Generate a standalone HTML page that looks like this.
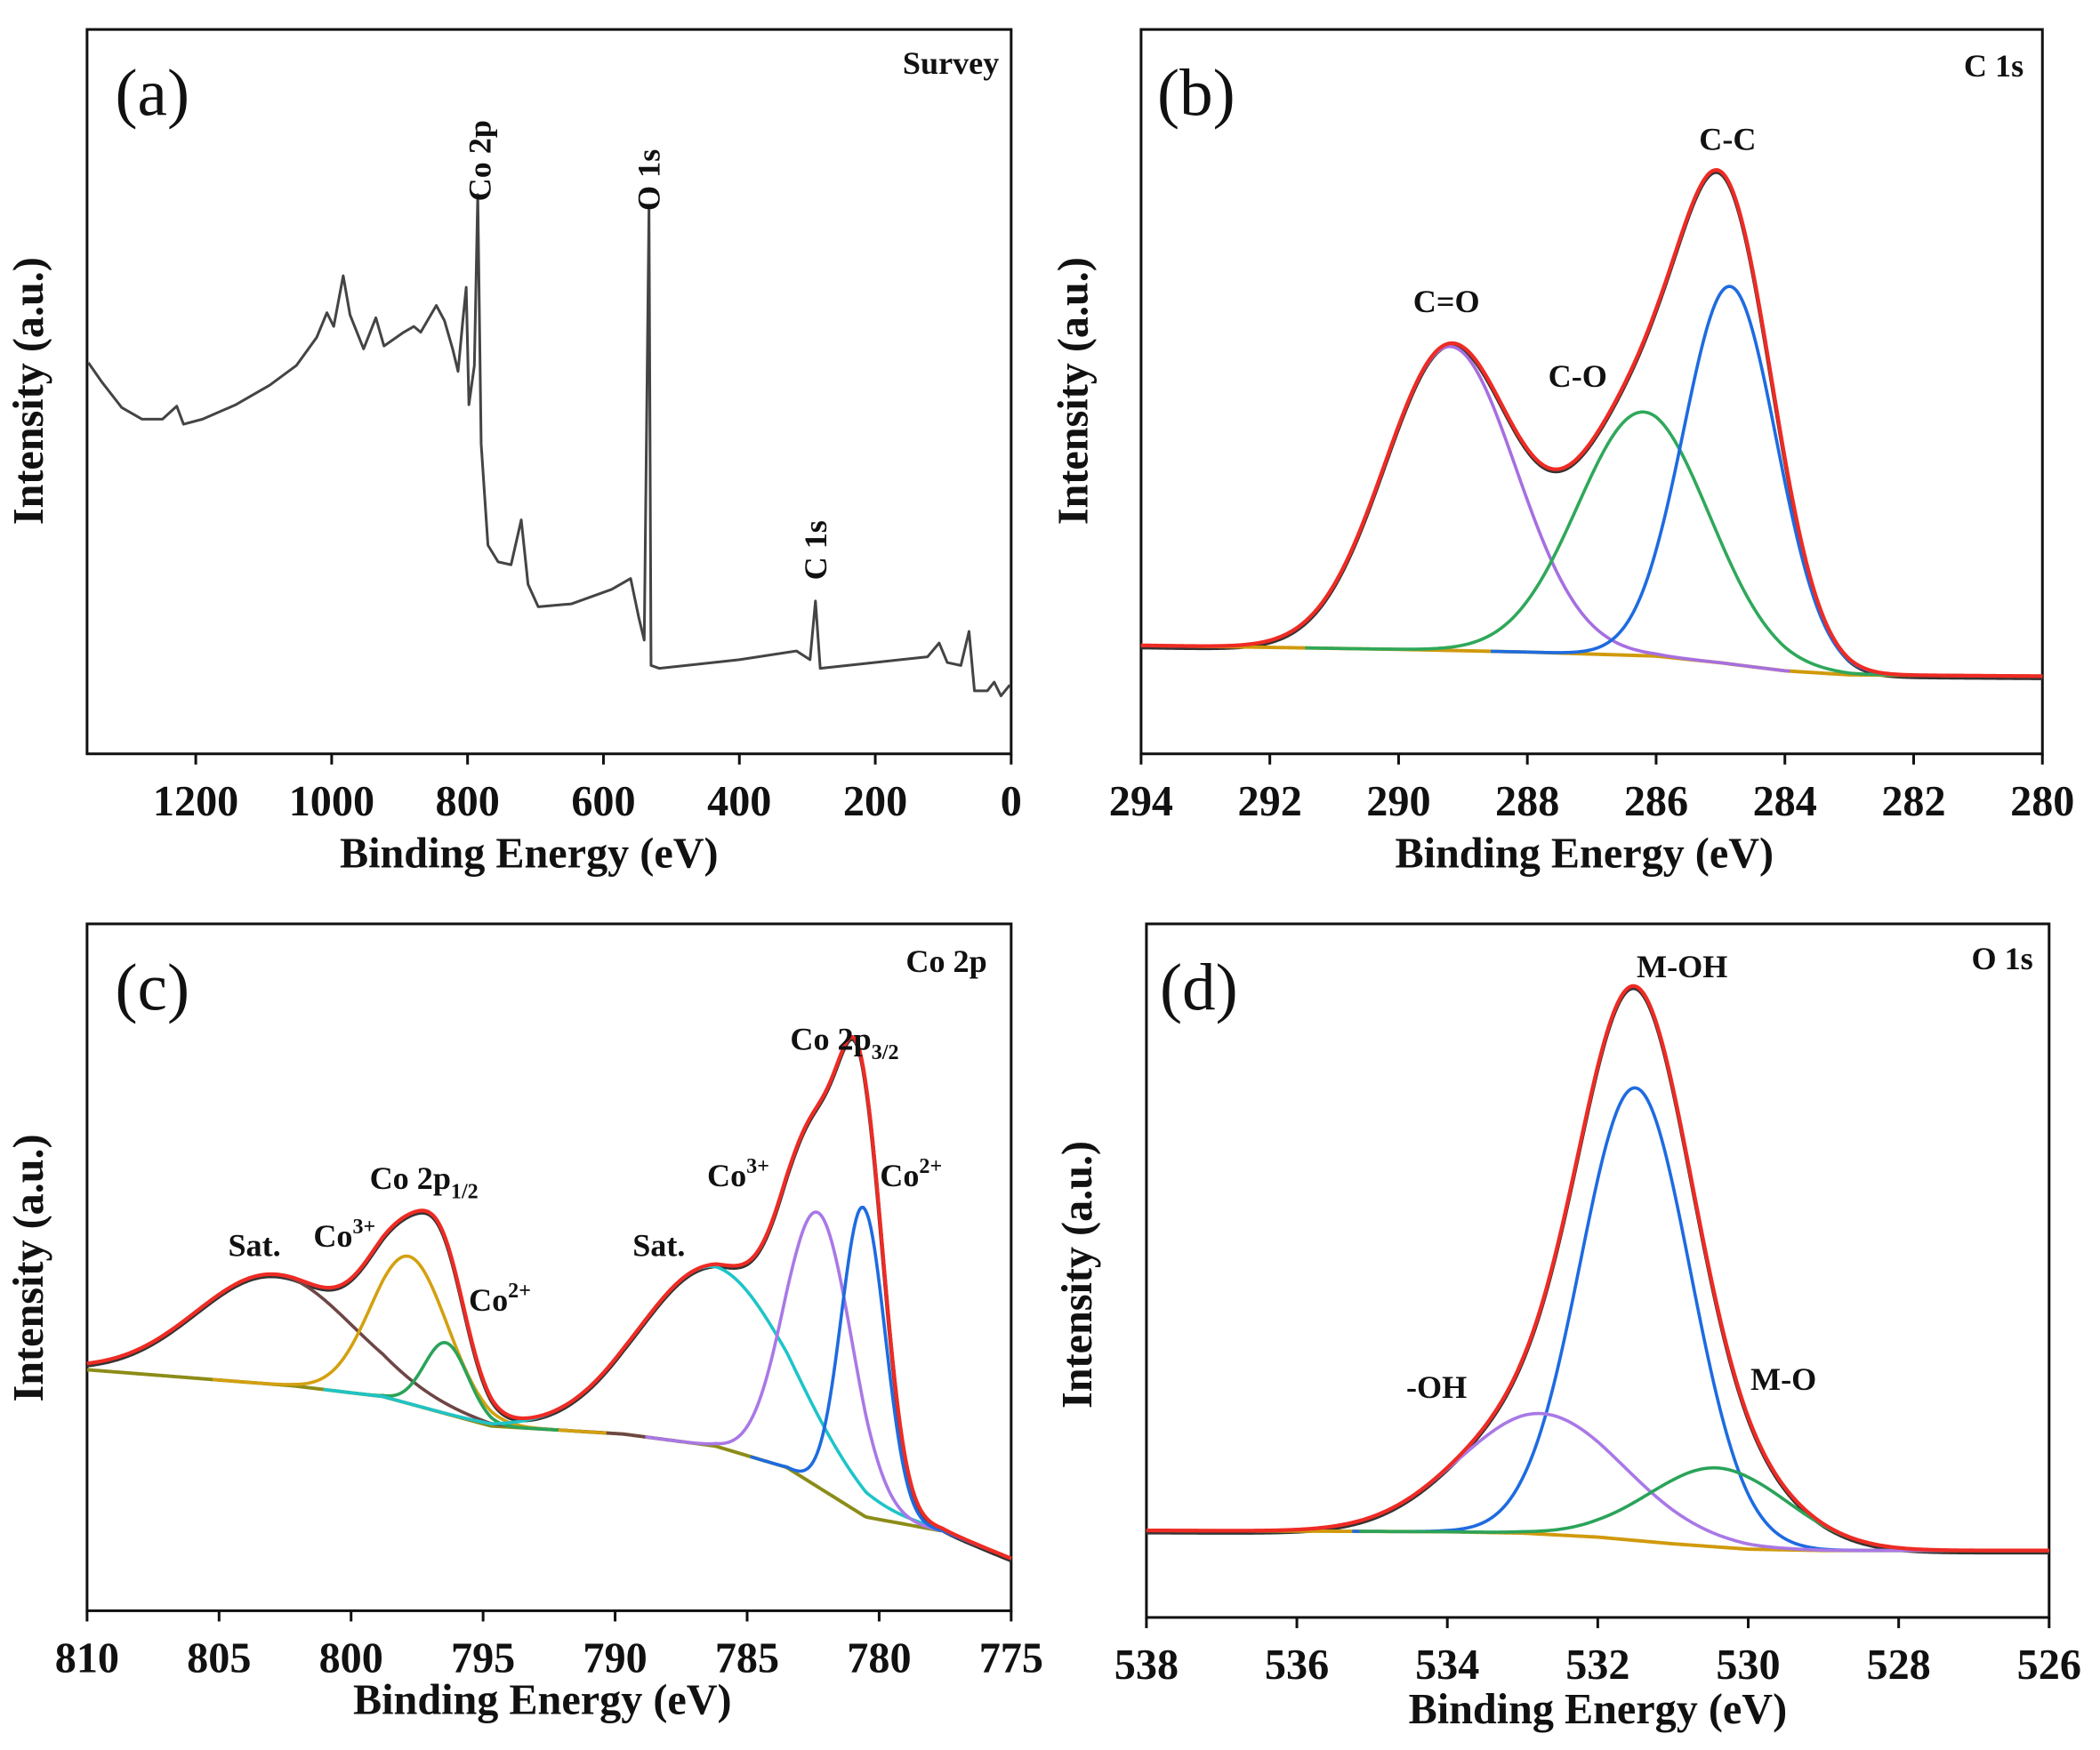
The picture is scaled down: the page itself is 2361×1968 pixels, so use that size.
<!DOCTYPE html>
<html><head><meta charset="utf-8"><style>
html,body{margin:0;padding:0;background:#fff;}
svg{display:block;}
text{font-family:"Liberation Serif","DejaVu Serif",serif;fill:#111;}
</style></head>
<body>
<svg id="fig" xmlns="http://www.w3.org/2000/svg" width="2361" height="1968" viewBox="0 0 1568 1307" preserveAspectRatio="none"></svg>
<script>
// ---------- Panel (a) survey data ----------
const surveyEV = [1358,1338,1309,1279,1249,1235,1228,1218,1190,1141,1091,1052,1022,1007,997,983,973,953,935,923,894,879,869,846,834,822,814,807,802,798,790,785,780,770,755,736,721,711,696,647,588,560,548,540,533,530,518,400,316,296,288,281,202,123,106,94,74,62,54,35,25,15,2];
const surveyI = [54.0,51.3,47.8,46.2,46.2,47.4,48.0,45.5,46.2,48.2,50.9,53.6,57.5,60.9,59.0,66.0,60.6,55.9,60.2,56.3,58.2,59.0,58.2,61.9,59.8,55.9,52.8,59.8,64.4,48.2,53.6,77.2,42.8,28.8,26.5,26.1,32.3,23.4,20.3,20.7,22.7,24.2,18.8,15.7,75.3,12.2,11.8,13.0,14.2,13.0,21.1,11.8,12.6,13.4,15.3,12.6,12.2,16.9,8.7,8.7,9.9,8.0,9.5];
const ticksA = [1200,1000,800,600,400,200,0];

// ---------- Panel (b) C 1s ----------
const baseB_EV = [294,290,288,286,285,284,283,280];
const baseB_I = [81,78,76,73,68,62,59,58];
const peakB_center = [289.2,286.2,284.85];
const peakB_height = [227,182,282];
const peakB_fwhm = [2.4,2.4,1.7];
const ticksB = [294,292,290,288,286,284,282,280];

// ---------- Panel (c) Co 2p ----------
const baseC_EV = [810,802.2,798.8,794.7,789.7,786.2,783.5,780.5,777.6,775];
const baseC_I = [180,168,160,138,132,123,107,70,59.5,39];
const peakC_center = [802.9,797.8,796.4,786.2,782.3,780.6];
const peakC_height = [82,110,53,134,205,230];
const peakC_fwhm = [7.0,3.4,1.95,6.75,3.0,1.95];
const ticksC = [810,805,800,795,790,785,780,775];

// ---------- Panel (d) O 1s ----------
const baseD_EV = [538,534,533,532,531,530,529,526];
const baseD_I = [65,64,63,60,55,51,50,50];
const peakD_center = [531.5,532.75,530.4];
const peakD_height = [338,90,59];
const peakD_fwhm = [1.72,2.58,2.17];
const ticksD = [538,536,534,532,530,528,526];

const NS = 'http://www.w3.org/2000/svg';
const svg = document.getElementById('fig');
function el(tag, attrs, parent, txt){
  const e = document.createElementNS(NS, tag);
  for (const k in attrs) e.setAttribute(k, attrs[k]);
  if (txt !== undefined) e.textContent = txt;
  (parent || svg).appendChild(e);
  return e;
}
function interp(xs, ys, x){
  for (let i=0;i<xs.length-1;i++){
    const a=xs[i], b=xs[i+1];
    if ((x<=a && x>=b) || (x>=a && x<=b)){ const t=(x-a)/(b-a); return ys[i]+t*(ys[i+1]-ys[i]); }
  }
  return x > Math.max(xs[0],xs[xs.length-1]) === (xs[0]>xs[xs.length-1]) ? ys[0] : ys[ys.length-1];
}
function gauss(x,c,h,w){ const s=w/2.3548; return h*Math.exp(-0.5*((x-c)/s)**2); }

function frame(g, L,T,R,B, x0,x1, ticks){
  const f = el('rect',{x:L,y:T,width:R-L,height:B-T,fill:'none',stroke:'#111','stroke-width':2},g);
  
  
  const sx = v => L + (x0-v)/(x0-x1)*(R-L);
  ticks.forEach(t=>{
    const x = sx(t);
    const tk = el('line',{x1:x,y1:B,x2:x,y2:B+8,stroke:'#111','stroke-width':2},g);
    
    
    const tl = el('text',{x:x,y:B+46,'text-anchor':'middle','font-size':32,'font-weight':'bold'},g,String(t));
    
    
  });
  return sx;
}
function titles(g, cx, ty, yx, yy){
  const xt = el('text',{x:cx,y:ty,'text-anchor':'middle','font-size':32,'font-weight':'bold'},g,'Binding Energy (eV)');
  
  
  const yt = el('text',{x:0,y:0,'text-anchor':'middle','font-size':32,'font-weight':'bold',transform:`translate(${yx},${yy}) rotate(-90)`},g,'Intensity (a.u.)');
  
  
}
function txt(g, x, y, s, size, weight, anchor, name){
  const t = el('text',{x:x,y:y,'font-size':size,'font-weight':weight||'bold','text-anchor':anchor||'start'},g);
  t.innerHTML = s;
  
  
  return t;
}
function path(g, pts, color, w, name){
  const p = el('path',{d:'M'+pts.map(p=>p[0].toFixed(2)+','+p[1].toFixed(2)).join('L'),fill:'none',stroke:color,'stroke-width':w,'stroke-linejoin':'round'},g);
  
  
  return p;
}
function fitPanel(g, sx, B, x0, x1, bEV, bI, cen, hei, fw, colors, names, baseColor, baseMin){
  const sy = v => B - v;
  const N = 500, xs=[];
  for (let i=0;i<=N;i++) xs.push(x0 + (x1-x0)*i/N);
  const base = x => interp(bEV,bI,x);
  const total = x => base(x) + cen.reduce((s,c,k)=>s+gauss(x,c,hei[k],fw[k]),0);
  path(g, xs.map(x=>[sx(x), sy(total(x))+1.5]), '#333', 3, 'raw-data-line');
  const bx = xs.filter(x=>baseMin===undefined || x>=baseMin);
  path(g, bx.map(x=>[sx(x), sy(base(x))]), baseColor, 2.6, 'background-line');
  cen.forEach((c,k)=>{
    const ks = xs.filter(x=>Math.abs(x-c) < fw[k]*2.2);
    path(g, ks.map(x=>[sx(x), sy(base(x)+gauss(x,c,hei[k],fw[k]))]), colors[k], 2.4, names[k]);
  });
  path(g, xs.map(x=>[sx(x), sy(total(x))]), '#ee2b24', 2.8, 'fit-envelope-line');
}

// ===== Panel a =====
const ga = el('g',{});


{
  const L=65,T=22,R=755,B=563;
  const sx = frame(ga,L,T,R,B,1360,0,ticksA);
  const sy = v => B - v/100*(B-T);
  path(ga, surveyEV.map((e,i)=>[sx(e), sy(surveyI[i])]), '#444', 2, 'survey-spectrum-line');
  titles(ga, 395, 648, 32, 292);
  txt(ga, 86, 86, '(a)', 50, 'normal', 'start', 'panel-label-a');
  txt(ga, 746, 55, 'Survey', 24, 'bold', 'end', 'panel-title-survey');
  const rl = [['Co 2p',782,74.8],['O 1s',533,73.5],['C 1s',288,22.5]];
  rl.forEach(r=>{
    const t = el('text',{x:0,y:0,'font-size':24,'font-weight':'bold',transform:`translate(${sx(r[1])+8},${sy(r[2])-8}) rotate(-90)`},ga,r[0]);
    
    
  });
}

// ===== Panel b =====
const gb = el('g',{});


{
  const L=852,T=22,R=1525,B=563;
  const sx = frame(gb,L,T,R,B,294,280,ticksB);
  fitPanel(gb, sx, B, 294, 280, baseB_EV, baseB_I, peakB_center, peakB_height, peakB_fwhm,
    ['#a66fe0','#2fa85a','#1e6be0'], ['c-o-double-peak','c-o-single-peak','c-c-peak'], '#d09a0c');
  titles(gb, 1183, 648, 812, 292);
  txt(gb, 864, 86, '(b)', 50, 'normal', 'start', 'panel-label-b');
  txt(gb, 1511, 57, 'C 1s', 24, 'bold', 'end', 'panel-title-c1s');
  txt(gb, 1080, 233, 'C=O', 24, 'bold', 'middle', 'peak-label');
  txt(gb, 1178, 289, 'C-O', 24, 'bold', 'middle', 'peak-label');
  txt(gb, 1290, 112, 'C-C', 24, 'bold', 'middle', 'peak-label');
}

// ===== Panel c =====
const gc = el('g',{});


{
  const L=65,T=690,R=755,B=1203;
  const sx = frame(gc,L,T,R,B,810,775,ticksC);
  fitPanel(gc, sx, B, 810, 775, baseC_EV, baseC_I, peakC_center, peakC_height, peakC_fwhm,
    ['#6e4646','#d4a010','#2aa35a','#1ec4c8','#a978e6','#1e6be0'],
    ['satellite-peak-1','co3-2p12-peak','co2-2p12-peak','satellite-peak-2','co3-2p32-peak','co2-2p32-peak'], '#8c8c18', 777.6);
  titles(gc, 405, 1280, 32, 947);
  txt(gc, 86, 754, '(c)', 50, 'normal', 'start', 'panel-label-c');
  txt(gc, 737, 726, 'Co 2p', 24, 'bold', 'end', 'panel-title-co2p');
  txt(gc, 190, 938, 'Sat.', 24, 'bold', 'middle', 'peak-label');
  txt(gc, 234, 931, 'Co<tspan dy="-10" font-size="16">3+</tspan>', 24, 'bold', 'start', 'peak-label');
  txt(gc, 276, 888, 'Co 2p<tspan dy="7" font-size="16">1/2</tspan>', 24, 'bold', 'start', 'peak-label');
  txt(gc, 350, 979, 'Co<tspan dy="-10" font-size="16">2+</tspan>', 24, 'bold', 'start', 'peak-label');
  txt(gc, 492, 938, 'Sat.', 24, 'bold', 'middle', 'peak-label');
  txt(gc, 528, 886, 'Co<tspan dy="-10" font-size="16">3+</tspan>', 24, 'bold', 'start', 'peak-label');
  txt(gc, 590, 784, 'Co 2p<tspan dy="7" font-size="16">3/2</tspan>', 24, 'bold', 'start', 'peak-label');
  txt(gc, 657, 886, 'Co<tspan dy="-10" font-size="16">2+</tspan>', 24, 'bold', 'start', 'peak-label');
}

// ===== Panel d =====
const gd = el('g',{});


{
  const L=856,T=690,R=1530,B=1208;
  const sx = frame(gd,L,T,R,B,538,526,ticksD);
  fitPanel(gd, sx, B, 538, 526, baseD_EV, baseD_I, peakD_center, peakD_height, peakD_fwhm,
    ['#1e6be0','#a978e6','#2aa35a'], ['m-oh-peak','oh-peak','m-o-peak'], '#d09a0c');
  titles(gd, 1193, 1287, 815, 952);
  txt(gd, 866, 754, '(d)', 50, 'normal', 'start', 'panel-label-d');
  txt(gd, 1518, 724, 'O 1s', 24, 'bold', 'end', 'panel-title-o1s');
  txt(gd, 1222, 730, 'M-OH', 24, 'bold', 'start', 'peak-label');
  txt(gd, 1050, 1044, '-OH', 24, 'bold', 'start', 'peak-label');
  txt(gd, 1307, 1038, 'M-O', 24, 'bold', 'start', 'peak-label');
}
</script>
</body></html>
